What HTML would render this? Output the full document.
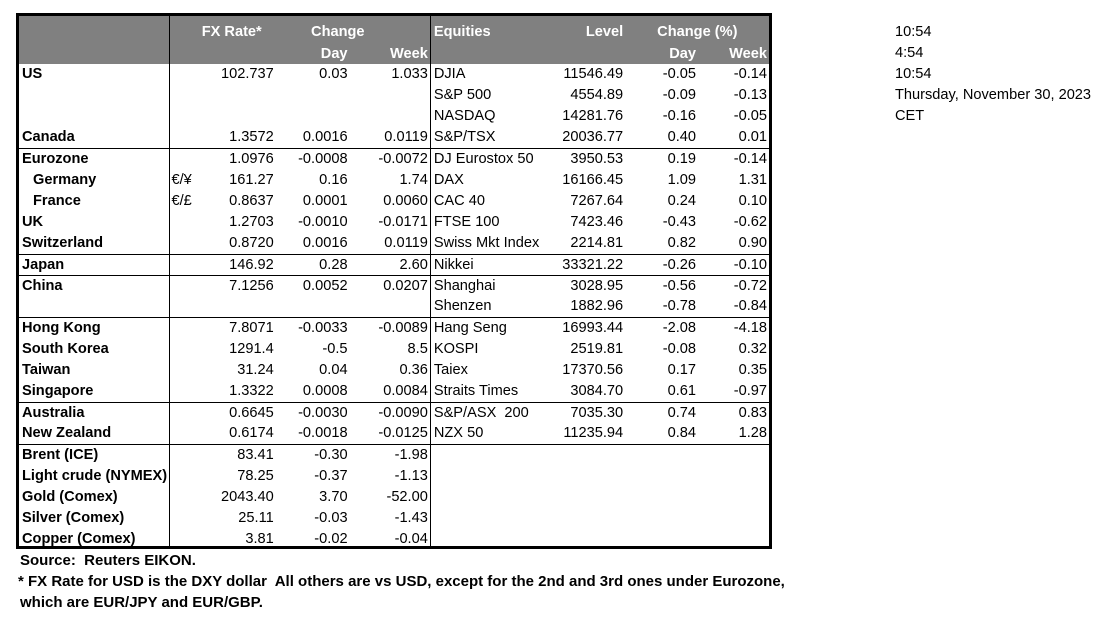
<!DOCTYPE html>
<html><head><meta charset="utf-8"><style>
body{margin:0;background:#fff;width:1106px;height:627px;position:relative;overflow:hidden;font-family:"Liberation Sans",Arial,sans-serif;font-size:14.6px;color:#000}
.wrap{position:absolute;left:16px;top:13px;width:750px;height:530px;border:3px solid #000;overflow:hidden}
table{border-collapse:collapse;table-layout:fixed;position:absolute;left:0;top:0}
td{height:21px;padding:0;line-height:21px;white-space:nowrap;overflow:visible;box-sizing:border-box}
.r{text-align:right;padding-right:2px}
.l{padding-left:3px}
.b{font-weight:bold}
thead td{background:#808080;color:#fff;font-weight:bold;height:24px;line-height:24px}
.h{position:relative;top:4px}
.h2{position:relative;top:2px}
.vl{border-left:1px solid #000}
.sep td{border-top:1px solid #000;height:21px;line-height:20px}
.side{position:absolute;left:895px;font-size:14.6px}
.note{position:absolute;left:20px;font-weight:bold;font-size:15px}
</style></head><body>
<div class="wrap">
<table>
<colgroup><col style="width:151px"><col style="width:106px"><col style="width:74px"><col style="width:81px"><col style="width:130px"><col style="width:65px"><col style="width:73px"><col style="width:71px"></colgroup>
<thead>
<tr><td></td><td class="r vl" style="padding-right:14px"><span class="h">FX Rate*</span></td><td colspan="2" style="text-align:center;padding-right:30px"><span class="h">Change</span></td><td class="l vl"><span class="h">Equities</span></td><td class="r"><span class="h">Level</span></td><td colspan="2" style="text-align:left;padding-left:32px"><span class="h">Change (%)</span></td></tr>
<tr><td style="height:23px;line-height:20px"></td><td class="vl" style="height:23px"></td><td class="r" style="height:23px;line-height:20px"><span class="h2">Day</span></td><td class="r" style="height:23px;line-height:20px"><span class="h2">Week</span></td><td class="vl"></td><td></td><td class="r" style="line-height:20px"><span class="h2">Day</span></td><td class="r" style="line-height:20px"><span class="h2">Week</span></td></tr>
</thead>
<tbody>
<tr><td class="b l">US</td><td class="r vl">102.737</td><td class="r">0.03</td><td class="r">1.033</td><td class="l vl">DJIA</td><td class="r">11546.49</td><td class="r">-0.05</td><td class="r">-0.14</td></tr>
<tr><td></td><td class="vl"></td><td></td><td></td><td class="l vl">S&amp;P 500</td><td class="r">4554.89</td><td class="r">-0.09</td><td class="r">-0.13</td></tr>
<tr><td></td><td class="vl"></td><td></td><td></td><td class="l vl">NASDAQ</td><td class="r">14281.76</td><td class="r">-0.16</td><td class="r">-0.05</td></tr>
<tr><td class="b l">Canada</td><td class="r vl">1.3572</td><td class="r">0.0016</td><td class="r">0.0119</td><td class="l vl">S&amp;P/TSX</td><td class="r">20036.77</td><td class="r">0.40</td><td class="r">0.01</td></tr>
<tr class="sep"><td class="b l">Eurozone</td><td class="r vl">1.0976</td><td class="r">-0.0008</td><td class="r">-0.0072</td><td class="l vl">DJ Eurostox 50</td><td class="r">3950.53</td><td class="r">0.19</td><td class="r">-0.14</td></tr>
<tr><td class="b" style="padding-left:14px">Germany</td><td class="r vl" style="position:relative"><span style="position:absolute;left:1px">€/¥</span>161.27</td><td class="r">0.16</td><td class="r">1.74</td><td class="l vl">DAX</td><td class="r">16166.45</td><td class="r">1.09</td><td class="r">1.31</td></tr>
<tr><td class="b" style="padding-left:14px">France</td><td class="r vl" style="position:relative"><span style="position:absolute;left:1px">€/£</span>0.8637</td><td class="r">0.0001</td><td class="r">0.0060</td><td class="l vl">CAC 40</td><td class="r">7267.64</td><td class="r">0.24</td><td class="r">0.10</td></tr>
<tr><td class="b l">UK</td><td class="r vl">1.2703</td><td class="r">-0.0010</td><td class="r">-0.0171</td><td class="l vl">FTSE 100</td><td class="r">7423.46</td><td class="r">-0.43</td><td class="r">-0.62</td></tr>
<tr><td class="b l">Switzerland</td><td class="r vl">0.8720</td><td class="r">0.0016</td><td class="r">0.0119</td><td class="l vl">Swiss Mkt Index</td><td class="r">2214.81</td><td class="r">0.82</td><td class="r">0.90</td></tr>
<tr class="sep"><td class="b l">Japan</td><td class="r vl">146.92</td><td class="r">0.28</td><td class="r">2.60</td><td class="l vl">Nikkei</td><td class="r">33321.22</td><td class="r">-0.26</td><td class="r">-0.10</td></tr>
<tr class="sep"><td class="b l">China</td><td class="r vl">7.1256</td><td class="r">0.0052</td><td class="r">0.0207</td><td class="l vl">Shanghai</td><td class="r">3028.95</td><td class="r">-0.56</td><td class="r">-0.72</td></tr>
<tr><td></td><td class="vl"></td><td></td><td></td><td class="l vl">Shenzen</td><td class="r">1882.96</td><td class="r">-0.78</td><td class="r">-0.84</td></tr>
<tr class="sep"><td class="b l">Hong Kong</td><td class="r vl">7.8071</td><td class="r">-0.0033</td><td class="r">-0.0089</td><td class="l vl">Hang Seng</td><td class="r">16993.44</td><td class="r">-2.08</td><td class="r">-4.18</td></tr>
<tr><td class="b l">South Korea</td><td class="r vl">1291.4</td><td class="r">-0.5</td><td class="r">8.5</td><td class="l vl">KOSPI</td><td class="r">2519.81</td><td class="r">-0.08</td><td class="r">0.32</td></tr>
<tr><td class="b l">Taiwan</td><td class="r vl">31.24</td><td class="r">0.04</td><td class="r">0.36</td><td class="l vl">Taiex</td><td class="r">17370.56</td><td class="r">0.17</td><td class="r">0.35</td></tr>
<tr><td class="b l">Singapore</td><td class="r vl">1.3322</td><td class="r">0.0008</td><td class="r">0.0084</td><td class="l vl">Straits Times</td><td class="r">3084.70</td><td class="r">0.61</td><td class="r">-0.97</td></tr>
<tr class="sep"><td class="b l">Australia</td><td class="r vl">0.6645</td><td class="r">-0.0030</td><td class="r">-0.0090</td><td class="l vl">S&amp;P/ASX &nbsp;200</td><td class="r">7035.30</td><td class="r">0.74</td><td class="r">0.83</td></tr>
<tr><td class="b l">New Zealand</td><td class="r vl">0.6174</td><td class="r">-0.0018</td><td class="r">-0.0125</td><td class="l vl">NZX 50</td><td class="r">11235.94</td><td class="r">0.84</td><td class="r">1.28</td></tr>
<tr class="sep"><td class="b l">Brent (ICE)</td><td class="r vl">83.41</td><td class="r">-0.30</td><td class="r">-1.98</td><td class="vl"></td><td></td><td></td><td></td></tr>
<tr><td class="b l">Light crude (NYMEX)</td><td class="r vl">78.25</td><td class="r">-0.37</td><td class="r">-1.13</td><td class="vl"></td><td></td><td></td><td></td></tr>
<tr><td class="b l">Gold (Comex)</td><td class="r vl">2043.40</td><td class="r">3.70</td><td class="r">-52.00</td><td class="vl"></td><td></td><td></td><td></td></tr>
<tr><td class="b l">Silver (Comex)</td><td class="r vl">25.11</td><td class="r">-0.03</td><td class="r">-1.43</td><td class="vl"></td><td></td><td></td><td></td></tr>
<tr><td class="b l">Copper (Comex)</td><td class="r vl">3.81</td><td class="r">-0.02</td><td class="r">-0.04</td><td class="vl"></td><td></td><td></td><td></td></tr>
</tbody></table>
</div>
<div class="note" style="top:552px">Source:&nbsp; Reuters EIKON.</div>
<div class="note" style="top:573px;left:18px">* FX Rate for USD is the DXY dollar&nbsp; All others are vs USD, except for the 2nd and 3rd ones under Eurozone,</div>
<div class="note" style="top:594px">which are EUR/JPY and EUR/GBP.</div>
<div class="side" style="top:24px">10:54</div>
<div class="side" style="top:45px">4:54</div>
<div class="side" style="top:66px">10:54</div>
<div class="side" style="top:87px">Thursday, November 30, 2023</div>
<div class="side" style="top:108px">CET</div>
</body></html>
